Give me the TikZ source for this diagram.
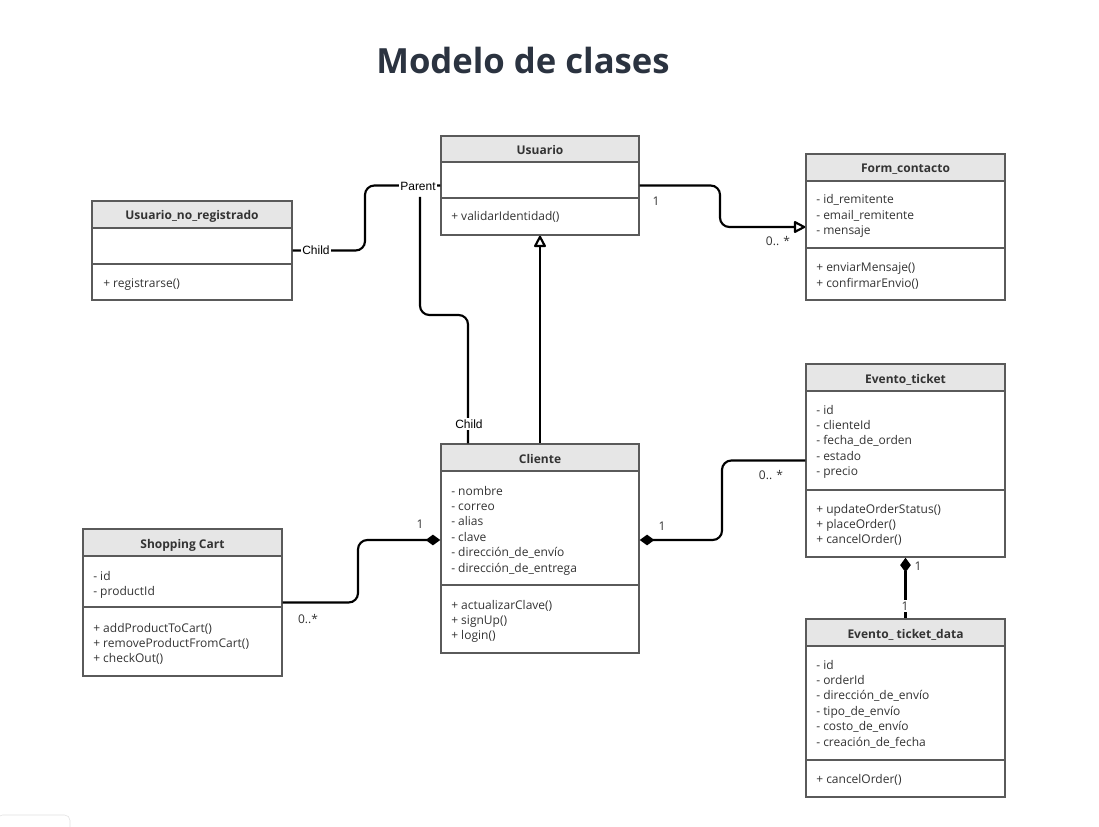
\documentclass[tikz,border=0pt]{standalone}
\usepackage{fontspec}
\setmainfont{Open Sans}
\newfontfamily\arialfont{Liberation Sans}
\usetikzlibrary{arrows.meta,fit}
\definecolor{boxgray}{HTML}{5A5A5A}
\definecolor{hdrfill}{HTML}{E6E6E6}
\definecolor{titlecol}{HTML}{2B3340}
\definecolor{txt}{HTML}{333333}
\newcommand{\umlbox}[8]{% name,left,top,right,hdrbot,divider,bottom,title
  \fill[hdrfill] (#2,#3) rectangle (#4,#5);
  \draw[boxline] (#2,#5) -- (#4,#5) (#2,#6) -- (#4,#6);
  \node[boxline, inner sep=0pt, fit={(#2,#3) (#4,#7)}] (#1) {};
  \node[classtitle] (#1-title) at ({(#2+#4)/2},{(#3+#5)/2+5.5}) {#8};
}
\newcommand{\members}[4]{% prefix,x,first y,list
  \foreach \mtext [count=\mi from 0] in {#4} {\node[member] (#1-\mi) at (#2,{#3+5+\mi*15.45}) {\mtext};}
}
\begin{document}
\begin{tikzpicture}[x=0.75pt,y=-0.75pt,
  boxline/.style={draw=boxgray, line width=1.1pt},
  classtitle/.style={font=\fontsize{9}{11}\selectfont\bfseries, text=txt, inner sep=0pt, anchor=base},
  member/.style={font=\fontsize{9}{11}\selectfont, text=txt, inner sep=0pt, anchor=base west},
  conn/.style={draw=black, line width=1.6pt, rounded corners=7pt},
  mult/.style={font=\fontsize{9}{11}\selectfont, text=txt, inner sep=1pt},
  role/.style={font=\arialfont\fontsize{9}{10}\selectfont, fill=white, inner sep=1pt},
  gen/.style={-{Triangle[open, length=9.5pt, width=9.5pt, round=false]}},
  comp/.style={{Diamond[length=11pt, width=8pt]}-}]
\useasboundingbox (0,0) rectangle (1099,827);

\node[font=\fontsize{26}{30}\selectfont\bfseries, text=titlecol] (title) at (523,61) {Modelo de clases};

% classes
\umlbox{usuario}{441}{136}{639}{162}{198}{235}{Usuario}
\members{usuario-m}{451}{216}{+ validarIdentidad()}

\umlbox{unr}{92}{201}{292}{228}{264}{300}{Usuario\_no\_registrado}
\members{unr-m}{103}{282}{+ registrarse()}

\umlbox{form}{806}{154}{1005}{181}{248}{300}{Form\_contacto}
\members{form-a}{816}{199}{- id\_remitente, - email\_remitente, - mensaje}
\members{form-m}{816}{267}{+ enviarMensaje(), + confirmarEnvio()}

\umlbox{evt}{806}{364}{1005}{391}{490}{557}{Evento\_ticket}
\members{evt-a}{816}{409}{- id, - clienteId, - fecha\_de\_orden, - estado, - precio}
\members{evt-m}{816}{508}{+ updateOrderStatus(), + placeOrder(), + cancelOrder()}

\umlbox{evtd}{806}{619}{1005}{646}{760}{797}{Evento\_ ticket\_data}
\members{evtd-a}{816}{664}{- id, - orderId, - dirección\_de\_envío, - tipo\_de\_envío, - costo\_de\_envío, - creación\_de\_fecha}
\members{evtd-m}{816}{778}{+ cancelOrder()}

\umlbox{cliente}{441}{444}{639}{471}{585}{653}{Cliente}
\members{cliente-a}{451}{490}{- nombre, - correo, - alias, - clave, - dirección\_de\_envío, - dirección\_de\_entrega}
\members{cliente-m}{451}{604}{+ actualizarClave(), + signUp(), + login()}

\umlbox{sc}{83}{529}{282}{556}{607}{676}{Shopping Cart}
\members{sc-a}{93}{575}{- id, - productId}
\members{sc-m}{93}{627}{+ addProductToCart(), + removeProductFromCart(), + checkOut()}

% connectors
\draw[conn] (unr.east) -| (365,218) |- (usuario.west);
\node[role] (child1) at (316,250) {Child};
\node[role] (parent1) at (418,186) {Parent};

\coordinate (pstart) at (420,197);
\draw[conn] (pstart) |- (444,315) -| (cliente.north west -| 468,0);
\node[role] (child2) at (469,424) {Child};

\draw[conn, gen] (usuario.east) -| (720,206) |- (form.west);
\node[mult] (m1) at (656,201) {1};
\node[mult] (m2) at (778,241) {0.. *};

\draw[conn, gen] (cliente.north) -- (usuario.south);

\coordinate (clw) at (cliente.west |- 0,540);
\draw[conn, comp] (clw) -| (358,570) |- (sc.east);
\node[mult] (m3) at (420,524) {1};
\node[mult] (m4) at (308,619) {0..*};

\coordinate (cle) at (cliente.east |- 0,540);
\draw[conn, comp] (cle) -| (722,500) |- (evt.west);
\node[mult] (m5) at (662,526) {1};
\node[mult] (m6) at (771,475) {0.. *};

\draw[conn, comp] (evt.south) -- (evtd.north);
\node[mult] (m7) at (918,566) {1};
\node[mult, fill=white] (m8) at (905,606) {1};

% UI remnant bottom-left
\draw[gray!25, rounded corners=4pt] (-3,815) rectangle (70,845);
\end{tikzpicture}
\end{document}
